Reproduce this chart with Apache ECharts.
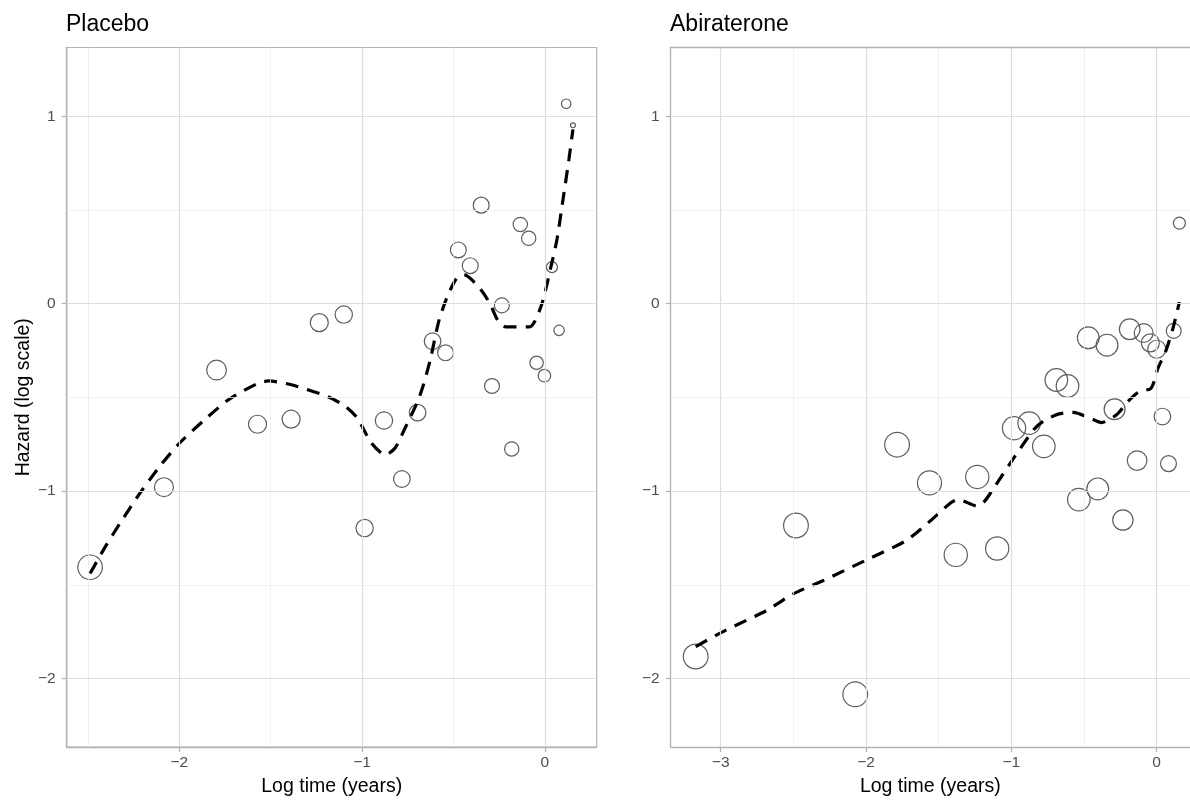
<!DOCTYPE html>
<html>
<head>
<meta charset="utf-8">
<title>Hazard by log time</title>
<script src="https://cdn.jsdelivr.net/npm/echarts@6/dist/echarts.min.js"></script>
<style>
  html, body { margin: 0; padding: 0; background: #ffffff; }
  #chart { width: 1190px; height: 802px; }
</style>
</head>
<body>
<div id="chart"></div>
<script>
// ---- Data -----------------------------------------------------------
const panelTitles = ['Placebo', 'Abiraterone'];
const xAxisTitle = 'Log time (years)';
const yAxisTitle = 'Hazard (log scale)';

// Placebo: observed interval hazards (log time, log hazard, number at risk weight)
const placeboTime = [-2.488, -2.084, -1.796, -1.572, -1.388, -1.234, -1.100, -0.986, -0.880,
  -0.782, -0.696, -0.614, -0.543, -0.473, -0.408, -0.348, -0.289, -0.235, -0.181, -0.134,
  -0.088, -0.045, -0.002, 0.039, 0.078, 0.117, 0.154];
const placeboHazard = [-1.406, -0.979, -0.354, -0.643, -0.616, -0.101, -0.058, -1.197, -0.623,
  -0.935, -0.581, -0.200, -0.262, 0.287, 0.203, 0.526, -0.439, -0.009, -0.775, 0.423,
  0.349, -0.315, -0.384, 0.195, -0.142, 1.067, 0.952];
const placeboWeight = [100, 60, 65, 54, 54, 54, 50, 50, 50, 46, 46, 46, 42, 42, 42, 42, 37, 37,
  34, 34, 34, 30, 26, 20, 18, 15, 4];

// Placebo: smoothed hazard curve
const placeboSmoothTime = [-2.488, -2.402, -2.305, -2.214, -2.106, -1.998, -1.868, -1.732, -1.576,
  -1.511, -1.381, -1.187, -1.090, -1.025, -0.949, -0.873, -0.819, -0.765, -0.700, -0.667,
  -0.625, -0.581, -0.538, -0.484, -0.441, -0.354, -0.300, -0.257, -0.214, -0.084, -0.019,
  0.035, 0.067, 0.100, 0.132, 0.154];
const placeboSmoothHazard = [-1.439, -1.292, -1.142, -1.009, -0.867, -0.743, -0.625, -0.513, -0.428,
  -0.412, -0.434, -0.496, -0.549, -0.611, -0.743, -0.806, -0.770, -0.664, -0.531, -0.442,
  -0.292, -0.097, 0.027, 0.133, 0.154, 0.080, 0.000, -0.089, -0.124, -0.124, -0.009,
  0.203, 0.345, 0.558, 0.770, 0.930];

// Abiraterone: observed interval hazards
const abiTime = [-3.172, -2.482, -2.074, -1.786, -1.563, -1.382, -1.234, -1.097, -0.981, -0.877,
  -0.776, -0.690, -0.613, -0.535, -0.470, -0.405, -0.341, -0.289, -0.232, -0.185, -0.134,
  -0.089, -0.043, 0.001, 0.040, 0.082, 0.118, 0.157];
const abiHazard = [-1.882, -1.183, -2.084, -0.752, -0.956, -1.340, -0.924, -1.306, -0.664, -0.637,
  -0.761, -0.407, -0.439, -1.045, -0.182, -0.988, -0.221, -0.563, -1.154, -0.136, -0.837,
  -0.156, -0.209, -0.243, -0.602, -0.853, -0.145, 0.430];
const abiWeight = [102, 102, 102, 102, 96, 90, 90, 90, 90, 85, 85, 85, 85, 85, 79, 79, 79, 73,
  69, 71, 64, 59, 54, 54, 46, 42, 37, 24];

// Abiraterone: smoothed hazard curve
const abiSmoothTime = [-3.172, -2.970, -2.685, -2.503, -2.297, -1.986, -1.726, -1.571, -1.416,
  -1.364, -1.234, -1.183, -1.105, -0.975, -0.846, -0.781, -0.677, -0.574, -0.457, -0.379,
  -0.276, -0.198, -0.120, -0.038, 0.009, 0.061, 0.112, 0.157];
const abiSmoothHazard = [-1.829, -1.744, -1.637, -1.549, -1.478, -1.363, -1.265, -1.168, -1.062,
  -1.045, -1.080, -1.053, -0.965, -0.814, -0.673, -0.628, -0.589, -0.580, -0.611, -0.634,
  -0.593, -0.522, -0.469, -0.451, -0.345, -0.257, -0.133, 0.009];

// Axis ranges and breaks
const placeboXRange = [-2.616, 0.284];
const abiXRange = [-3.344, 0.230];
const yRange = [-2.365, 1.367];
const placeboXMajor = [-2, -1, 0];
const placeboXMinor = [-2.5, -1.5, -0.5];
const abiXMajor = [-3, -2, -1, 0];
const abiXMinor = [-2.5, -1.5, -0.5];
const yMajor = [-2, -1, 0, 1];
const yMinor = [-1.5, -0.5, 0.5];

// ---- Helpers --------------------------------------------------------
const FONT = '"Liberation Sans", Arial, Helvetica, sans-serif';
const BORDER = '#b3b3b3';
const minusFmt = v => String(v).replace('-', '\u2212');
const zip3 = (a, b, c) => a.map((v, i) => [v, b[i], c[i]]);
const zip2 = (a, b) => a.map((v, i) => [v, b[i]]);

// Panel grid lines (and, where needed, the top edge of the panel)
function gridLines(idx, xMajor, xMinor, withTopEdge) {
  const major = { color: '#dedede', width: 1.2, type: 'solid' };
  const minor = { color: '#ececec', width: 0.8, type: 'solid' };
  const data = [];
  xMinor.forEach(v => data.push({ xAxis: v, lineStyle: minor }));
  yMinor.forEach(v => data.push({ yAxis: v, lineStyle: minor }));
  xMajor.forEach(v => data.push({ xAxis: v, lineStyle: major }));
  yMajor.forEach(v => data.push({ yAxis: v, lineStyle: major }));
  if (withTopEdge) {
    data.push({ yAxis: yRange[1], lineStyle: { color: BORDER, width: 1.3, type: 'solid' } });
  }
  return {
    type: 'line', xAxisIndex: idx, yAxisIndex: idx, data: [], silent: true, z: 1,
    markLine: { silent: true, symbol: ['none', 'none'], label: { show: false },
      animation: false, precision: 4, data: data }
  };
}

function xAxisOf(idx, range, major) {
  return {
    type: 'value', gridIndex: idx, min: range[0], max: range[1],
    name: xAxisTitle, nameLocation: 'middle', nameGap: 30,
    nameTextStyle: { fontFamily: FONT, fontSize: 19.5, color: '#000000' },
    axisLine: { show: true, onZero: false, lineStyle: { color: BORDER, width: 1.4 } },
    axisTick: { show: true, length: 5, customValues: major, lineStyle: { color: BORDER, width: 1.2 } },
    axisLabel: { customValues: major, formatter: minusFmt, margin: 8,
      fontFamily: FONT, fontSize: 15.5, color: '#4d4d4d' },
    splitLine: { show: false }
  };
}

function yAxisOf(idx, withName) {
  return {
    type: 'value', gridIndex: idx, min: yRange[0], max: yRange[1],
    name: withName ? yAxisTitle : '', nameLocation: 'middle', nameGap: 33, nameRotate: 90,
    nameTextStyle: { fontFamily: FONT, fontSize: 19.5, color: '#000000' },
    axisLine: { show: true, onZero: false, lineStyle: { color: BORDER, width: 1.4 } },
    axisTick: { show: true, length: 5, customValues: yMajor, lineStyle: { color: BORDER, width: 1.2 } },
    axisLabel: { customValues: yMajor, formatter: minusFmt, margin: 11,
      fontFamily: FONT, fontSize: 15.5, color: '#4d4d4d' },
    splitLine: { show: false }
  };
}

function points(idx, x, y, w) {
  return {
    type: 'scatter', xAxisIndex: idx, yAxisIndex: idx, z: 2,
    data: zip3(x, y, w),
    symbol: 'circle',
    symbolSize: v => 2.45 * Math.sqrt(v[2]),
    itemStyle: { color: 'rgba(0,0,0,0)', borderColor: '#5e5e5e', borderWidth: 1.2, opacity: 1 },
    emphasis: { disabled: true }
  };
}

function curve(idx, x, y) {
  return {
    type: 'line', xAxisIndex: idx, yAxisIndex: idx, z: 3,
    data: zip2(x, y), showSymbol: false, smooth: 0.25,
    lineStyle: { color: '#000000', width: 3.2, type: [13, 9], cap: 'butt' }
  };
}

// ---- Chart ----------------------------------------------------------
const titleStyle = { fontFamily: FONT, fontSize: 23, fontWeight: 'normal', color: '#000000' };
const chart = echarts.init(document.getElementById('chart'), null, { renderer: 'canvas' });
chart.setOption({
  animation: false,
  backgroundColor: '#ffffff',
  title: [
    { text: panelTitles[0], left: 66, top: 13, padding: 0, textStyle: titleStyle },
    { text: panelTitles[1], left: 670, top: 13, padding: 0, textStyle: titleStyle }
  ],
  grid: [
    { left: 66.7, top: 47.5, width: 530, height: 703, show: true,
      borderColor: BORDER, borderWidth: 1.2, backgroundColor: 'transparent' },
    // the right-hand panel runs to the edge of the canvas
    { left: 670.7, top: 47.5, width: 519.3, height: 703, show: false }
  ],
  xAxis: [xAxisOf(0, placeboXRange, placeboXMajor), xAxisOf(1, abiXRange, abiXMajor)],
  yAxis: [yAxisOf(0, true), yAxisOf(1, false)],
  series: [
    gridLines(0, placeboXMajor, placeboXMinor, false),
    gridLines(1, abiXMajor, abiXMinor, true),
    points(0, placeboTime, placeboHazard, placeboWeight),
    points(1, abiTime, abiHazard, abiWeight),
    curve(0, placeboSmoothTime, placeboSmoothHazard),
    curve(1, abiSmoothTime, abiSmoothHazard)
  ]
});
</script>
</body>
</html>
